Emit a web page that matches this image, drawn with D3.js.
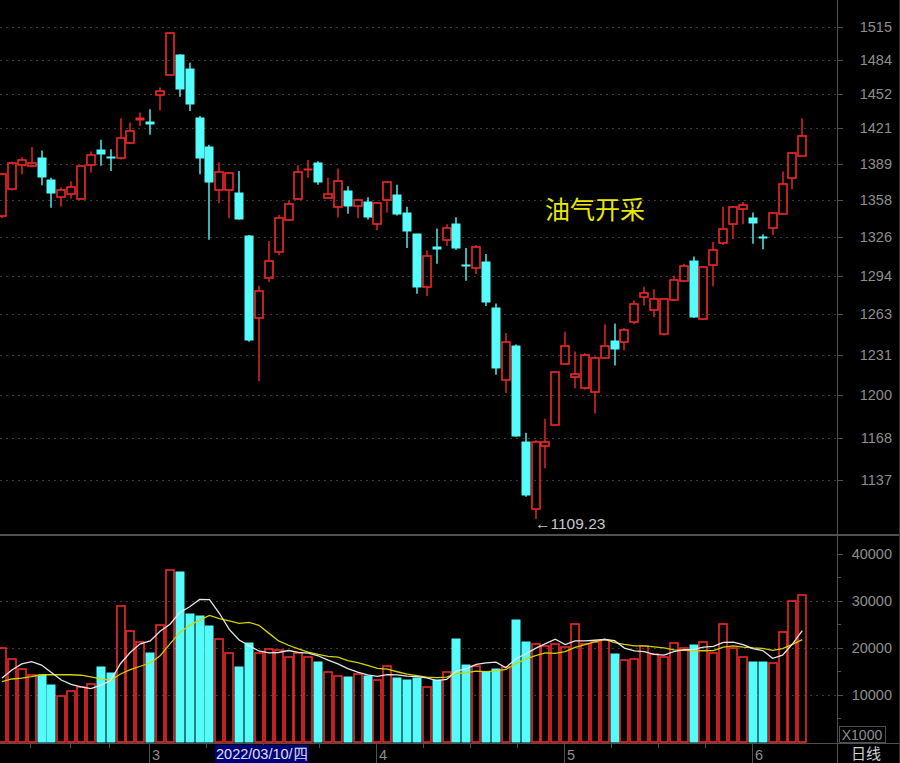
<!DOCTYPE html>
<html><head><meta charset="utf-8">
<script src="https://cdn.jsdelivr.net/npm/d3@7"></script>
<style>html,body{margin:0;padding:0;background:#000;overflow:hidden}</style>
</head><body>
<svg id="c" width="900" height="763"></svg>
<script>
// ---------- data ----------
const dates = [
 "2022-02-08","2022-02-09","2022-02-10","2022-02-11","2022-02-14","2022-02-15","2022-02-16","2022-02-17","2022-02-18","2022-02-21","2022-02-22","2022-02-23","2022-02-24","2022-02-25","2022-02-28",
 "2022-03-01","2022-03-02","2022-03-03","2022-03-04","2022-03-07","2022-03-08","2022-03-09","2022-03-10","2022-03-11","2022-03-14","2022-03-15","2022-03-16","2022-03-17","2022-03-18","2022-03-21","2022-03-22","2022-03-23","2022-03-24","2022-03-25","2022-03-28","2022-03-29","2022-03-30","2022-03-31",
 "2022-04-01","2022-04-06","2022-04-07","2022-04-08","2022-04-11","2022-04-12","2022-04-13","2022-04-14","2022-04-15","2022-04-18","2022-04-19","2022-04-20","2022-04-21","2022-04-22","2022-04-25","2022-04-26","2022-04-27","2022-04-28","2022-04-29",
 "2022-05-05","2022-05-06","2022-05-09","2022-05-10","2022-05-11","2022-05-12","2022-05-13","2022-05-16","2022-05-17","2022-05-18","2022-05-19","2022-05-20","2022-05-23","2022-05-24","2022-05-25","2022-05-26","2022-05-27","2022-05-30","2022-05-31",
 "2022-06-01","2022-06-02","2022-06-06","2022-06-07","2022-06-08","2022-06-09"
];
const open  = [1344,1367,1388,1387,1394,1375,1360,1362.5,1359,1388,1401,1395.5,1394,1407.5,1428,1426.5,1451,1470,1488,1475,1430,1404,1366,1366,1364,1327,1260,1292.5,1313.5,1340.5,1358.5,1384,1389.5,1359.5,1351.5,1365.5,1352.5,1356,1337,1357.5,1362,1347,1328.5,1284.5,1317.5,1323.5,1337,1303,1300.5,1305.5,1268,1211,1238,1165,1116.5,1161.5,1177,1223.5,1214,1205,1202,1228,1241.5,1241,1257,1276.5,1266,1247,1274,1290,1306.5,1259,1303,1321.5,1337.5,1350,1342,1326.5,1333.5,1345.5,1376.5,1396.5];
const high  = [1381,1391,1395,1404,1401,1377,1368.5,1374,1388,1400,1410.5,1402,1430,1426,1435,1438,1458,1510,1489,1481,1432,1406,1390.5,1382,1383,1328,1286,1323,1345,1357,1388,1392.5,1391.5,1377,1385,1369.5,1358,1360,1355.5,1373.5,1371,1352,1329,1315,1333.5,1337,1343,1317,1319.5,1312,1271.5,1248,1239,1171.5,1166,1182,1218,1249,1233.5,1232,1229.5,1255,1255.5,1252,1274,1285,1283,1275.5,1294,1304,1310,1301.5,1322,1352,1352.5,1356,1347,1328.5,1347,1382.5,1399.5,1430];
const low   = [1342,1366,1380,1386,1370.5,1351,1352,1359,1358.5,1381.5,1387.5,1383,1393,1407,1423,1415,1437,1470,1449.5,1436.5,1380,1324,1355,1342,1341,1241,1210.5,1289,1311,1340,1358,1377,1371,1359,1343,1346,1342,1341,1332,1347,1344.5,1317,1279.5,1277.5,1304,1319,1315.5,1290,1295.5,1269.5,1215.5,1201.5,1168.5,1125,1109.23,1145.5,1176.5,1223,1205,1204,1186,1228,1222.5,1234.5,1255,1270,1260.5,1246,1273.5,1289,1260,1258.5,1285.5,1319.5,1324.5,1337,1320.5,1316,1328,1345,1367,1396];
const close = [1380,1390,1393,1390,1378,1364,1366.5,1369,1387,1397,1397.5,1394.5,1412.5,1418,1430.5,1425,1455,1509.5,1456.5,1443,1394,1373,1382,1381,1341.5,1242.5,1282,1306.5,1342,1354.5,1382,1385,1373,1363,1374,1352.5,1358,1343,1355,1373,1346,1331.5,1284.5,1310.5,1316.5,1333.5,1317,1302,1318,1273,1220.5,1241,1169,1126,1165,1164.5,1217.5,1238,1216,1231,1228,1238,1235.5,1250,1271.5,1280,1275,1275,1291,1302.5,1260.5,1301,1315.5,1333,1351.5,1353,1338,1325.5,1347,1371.5,1399,1413.5];
const volume = [19900,17600,15500,14200,14100,12000,9600,10800,11600,12200,15800,14500,28900,23500,21200,18900,24800,36400,36000,27200,26800,24600,21800,18900,15900,20900,18800,19700,19400,18000,18900,18000,16900,14800,14000,13800,14300,14000,13100,16000,13500,13000,13500,11700,13100,14700,21800,16300,16100,14800,15400,15900,25800,21200,20800,20400,20700,20100,25100,20700,21100,21600,18700,17300,17600,20400,18700,17900,20900,19800,20600,21200,18800,25100,20000,17900,16900,16900,16800,23300,29800,31200];
const ma5Head  = [13500,15200,16500,17000];
const ma10Head = [12750,13300,13500,13800,14200,14200,14200,14200,14100];
const priceTicks  = [1137,1168,1200,1231,1263,1294,1326,1358,1389,1421,1452,1484,1515];
const volumeTicks = [10000,20000,30000,40000];
const volumeMinorTicks = [5000,15000,25000,35000];
const monthTradingDays = {"02":16,"03":23,"04":19,"05":19};
const sectorTitle = "油气开采";
const lowLabel = "1109.23";
const cursorDate = "2022-03-10";
const cursorLabel = "2022/03/10/四";
const periodLabel = "日线";
const unitLabel = "X1000";

// ---------- layout ----------
const W = 900, H = 763;
const plotR = 838;
const svg = d3.select("#c");
const RED = "#f02828", CYAN = "#54fcfc", GRID = "#3c3c3c", AXIS = "#505050", TXT = "#8e8e8e";
const FONT = "'Liberation Sans', Arial, sans-serif";
const SW = 1.6; // outline width of hollow (rising) marks

const n = dates.length;
const x = d3.scaleLinear().domain([0, n - 1]).range([2, 802.3]);
const y = d3.scaleLog().domain([1137, 1515]).range([480, 27]);
const yv = d3.scaleLinear().domain([0, 40000]).range([741.5, 553.5]);
const bw = 8;

svg.append("rect").attr("width", W).attr("height", H).attr("fill", "#000");

// gridlines
const g = svg.append("g").attr("shape-rendering", "crispEdges");
g.selectAll(".pg").data(priceTicks).join("line")
  .attr("x1", 0).attr("x2", plotR - 2)
  .attr("y1", d => Math.round(y(d)) + 0.5).attr("y2", d => Math.round(y(d)) + 0.5)
  .attr("stroke", GRID).attr("stroke-dasharray", "2,4");
g.selectAll(".vg").data(volumeTicks.slice(0, 3)).join("line")
  .attr("x1", 0).attr("x2", plotR - 2)
  .attr("y1", d => Math.round(yv(d)) + 0.5).attr("y2", d => Math.round(yv(d)) + 0.5)
  .attr("stroke", GRID).attr("stroke-dasharray", "2,4");

// frame lines
g.append("line").attr("x1", plotR - 0.5).attr("x2", plotR - 0.5).attr("y1", 0).attr("y2", H).attr("stroke", AXIS);
g.append("line").attr("x1", 0).attr("x2", W).attr("y1", 534.5).attr("y2", 534.5).attr("stroke", AXIS).attr("stroke-width", 2);
g.append("line").attr("x1", 0).attr("x2", W).attr("y1", 743.5).attr("y2", 743.5).attr("stroke", AXIS);
g.append("line").attr("x1", W - 0.5).attr("x2", W - 0.5).attr("y1", 0).attr("y2", H).attr("stroke", "#303030");

// right price axis
const pa = svg.append("g").attr("transform", `translate(${plotR - 1},0)`)
  .call(d3.axisRight(y).tickValues(priceTicks).tickFormat(d3.format("d")).tickSize(6));
pa.select(".domain").remove();
pa.selectAll(".tick line").attr("stroke", AXIS).attr("shape-rendering", "crispEdges");
pa.selectAll(".tick text").attr("fill", TXT).attr("font-family", FONT).attr("font-size", 14.5)
  .attr("text-anchor", "end").attr("x", 892 - plotR + 1);

// right volume axis
const va = svg.append("g").attr("transform", `translate(${plotR - 1},0)`)
  .call(d3.axisRight(yv).tickValues(volumeTicks).tickFormat(d3.format("d")).tickSize(6));
va.select(".domain").remove();
va.selectAll(".tick line").attr("stroke", AXIS).attr("shape-rendering", "crispEdges");
va.selectAll(".tick text").attr("fill", TXT).attr("font-family", FONT).attr("font-size", 14.5)
  .attr("text-anchor", "end").attr("x", 892 - plotR + 1);
svg.append("g").selectAll("line").data(volumeMinorTicks).join("line")
  .attr("x1", plotR - 1).attr("x2", plotR + 3)
  .attr("y1", d => Math.round(yv(d)) + 0.5).attr("y2", d => Math.round(yv(d)) + 0.5)
  .attr("stroke", AXIS).attr("shape-rendering", "crispEdges");

// unit box
svg.append("rect").attr("x", 839.5).attr("y", 726.5).attr("width", 46).attr("height", 16)
  .attr("fill", "none").attr("stroke", AXIS).attr("shape-rendering", "crispEdges");
svg.append("text").attr("x", 862).attr("y", 740).attr("text-anchor", "middle")
  .attr("fill", TXT).attr("font-family", FONT).attr("font-size", 14).text(unitLabel);
svg.append("text").attr("x", 866).attr("y", 759).attr("text-anchor", "middle")
  .attr("fill", "#cfcfcf").attr("font-family", "'Noto Sans CJK SC', sans-serif").attr("font-size", 15).text(periodLabel);

// ---------- candles ----------
const up = i => close[i] >= open[i];
const cg = svg.append("g");
d3.range(n).forEach(i => {
  const cx = Math.round(x(i));
  const col = up(i) ? RED : CYAN;
  const yo = y(open[i]), yc = y(close[i]), yh = y(high[i]), yl = y(low[i]);
  const top = Math.round(Math.min(yo, yc)), bot = Math.round(Math.max(yo, yc));
  const left = cx - bw / 2;
  if (up(i) && bot - top >= 3) {
    cg.append("line").attr("x1", cx).attr("x2", cx).attr("y1", yh).attr("y2", top).attr("stroke", col).attr("stroke-width", 1.4);
    cg.append("line").attr("x1", cx).attr("x2", cx).attr("y1", bot).attr("y2", yl).attr("stroke", col).attr("stroke-width", 1.4);
    cg.append("rect").attr("x", left).attr("y", top).attr("width", bw).attr("height", bot - top)
      .attr("fill", "none").attr("stroke", col).attr("stroke-width", SW);
  } else {
    cg.append("line").attr("x1", cx).attr("x2", cx).attr("y1", yh).attr("y2", yl).attr("stroke", col).attr("stroke-width", 1.4);
    cg.append("rect").attr("x", left - 0.5).attr("y", top - 0.5).attr("width", bw + 1).attr("height", Math.max(2, bot - top + 1)).attr("fill", col);
  }
});

// ---------- volume ----------
const vg = svg.append("g");
d3.range(n).forEach(i => {
  const cx = Math.round(x(i));
  const t = Math.round(yv(volume[i])), b = Math.round(yv(0));
  if (up(i)) {
    vg.append("rect").attr("x", cx - bw / 2).attr("y", t).attr("width", bw).attr("height", b - t)
      .attr("fill", "none").attr("stroke", RED).attr("stroke-width", SW);
  } else {
    vg.append("rect").attr("x", cx - bw / 2 - 0.5).attr("y", t - 0.5).attr("width", bw + 1).attr("height", b - t + 1).attr("fill", CYAN);
  }
});

// moving averages of volume
function ma(k, head) {
  return d3.range(n).map(i => i < k - 1 ? head[i] : d3.mean(volume.slice(i - k + 1, i + 1)));
}
const ma5 = ma(5, ma5Head), ma10 = ma(10, ma10Head);
const line = d3.line().x((d, i) => x(i)).y(d => yv(d));
svg.append("path").attr("d", line(ma10)).attr("fill", "none").attr("stroke", "#d2d200").attr("stroke-width", 1.3);
svg.append("path").attr("d", line(ma5)).attr("fill", "none").attr("stroke", "#e6e6e6").attr("stroke-width", 1.3);

// ---------- x axis row ----------
const months = [];
dates.forEach((d, i) => { const m = d.slice(5, 7); if (i > 0 && m !== dates[i - 1].slice(5, 7)) months.push({ i, m }); });
const ax = svg.append("g").attr("shape-rendering", "crispEdges");
months.forEach(({ i, m }) => {
  const px = Math.round(x(i) - 1.2) + 0.5;
  ax.append("line").attr("x1", px).attr("x2", px).attr("y1", 744).attr("y2", H).attr("stroke", AXIS);
  svg.append("text").attr("x", px + 2.5).attr("y", 760).attr("fill", TXT).attr("font-family", FONT)
    .attr("font-size", 14.5).text(String(+m));
});
// quarter-month minor ticks
const minor = [];
const firstM = dates[0].slice(5, 7);
const firstNext = months[0].i;
for (let k = 1; k < 4; k++) { const p = firstNext - k * monthTradingDays[firstM] / 4; if (p >= 0) minor.push(p); }
months.forEach(({ i, m }) => {
  if (monthTradingDays[m]) for (let k = 1; k < 4; k++) minor.push(i + k * monthTradingDays[m] / 4);
});
minor.forEach(p => {
  const px = Math.round(x(p) - 1.2) + 0.5;
  ax.append("line").attr("x1", px).attr("x2", px).attr("y1", 744).attr("y2", 748).attr("stroke", AXIS);
});

// cursor date label
const ci = dates.indexOf(cursorDate);
const cbox = svg.append("rect").attr("fill", "#00007c");
const ct = svg.append("text").attr("x", Math.round(x(ci)) - 3).attr("y", 759)
  .attr("fill", "#e0e0e0").attr("font-family", FONT).attr("font-size", 14.5).text(cursorLabel);
const bb = ct.node().getBBox();
cbox.attr("x", bb.x - 1).attr("y", 745).attr("width", bb.width + 2).attr("height", 18);

// ---------- annotations ----------
svg.append("text").attr("x", 545).attr("y", 219).attr("fill", "#e8e800")
  .attr("font-family", "'Noto Sans CJK SC', sans-serif").attr("font-size", 25).text(sectorTitle);
const li = low.indexOf(d3.min(low));
svg.append("text").attr("x", Math.round(x(li)) - 1).attr("y", y(low[li]) + 10)
  .attr("fill", "#c8c8c8").attr("font-family", FONT).attr("font-size", 15.5).text("←" + lowLabel);
</script>
</body></html>
